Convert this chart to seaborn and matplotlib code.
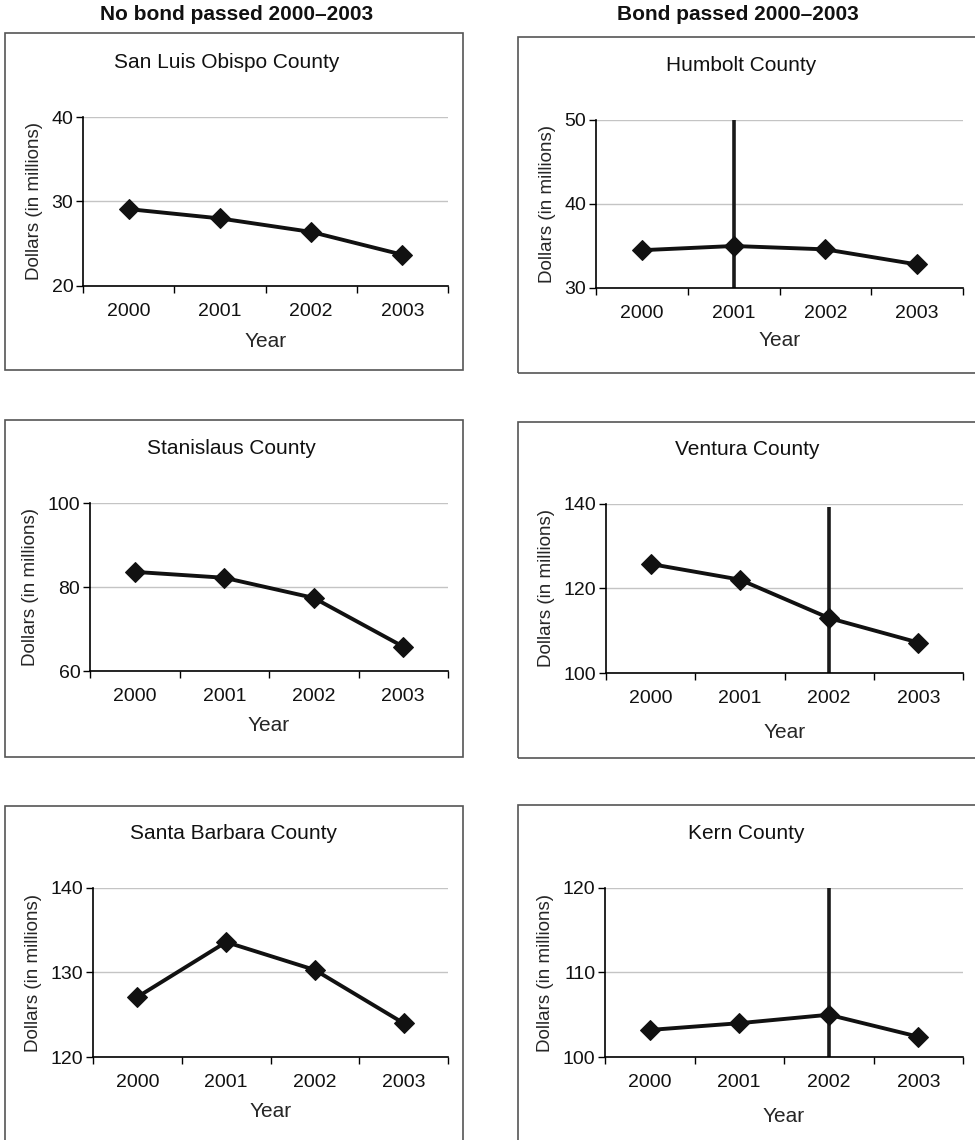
import matplotlib
matplotlib.use("Agg")
import matplotlib.pyplot as plt
from matplotlib.patches import Rectangle
import numpy as np
import pandas as pd
import seaborn as sns

# ---- data -------------------------------------------------------------
years = [2000, 2001, 2002, 2003]

headers = ["No bond passed 2000\u20132003", "Bond passed 2000\u20132003"]

counties = ["San Luis Obispo County", "Humbolt County",
            "Stanislaus County", "Ventura County",
            "Santa Barbara County", "Kern County"]

san_luis_obispo = [29.1, 28.0, 26.4, 23.7]
humbolt = [34.5, 35.0, 34.6, 32.8]
stanislaus = [83.6, 82.2, 77.4, 65.8]
ventura = [125.8, 122.1, 113.0, 107.2]
santa_barbara = [127.1, 133.6, 130.3, 124.0]
kern = [103.2, 104.0, 105.0, 102.4]

series = [san_luis_obispo, humbolt, stanislaus, ventura, santa_barbara, kern]

y_ticks = [[20, 30, 40], [30, 40, 50], [60, 80, 100],
           [100, 120, 140], [120, 130, 140], [100, 110, 120]]

# year in which a bond passed, and how high its marker line reaches
bond_year = {"Humbolt County": 2001, "Ventura County": 2002, "Kern County": 2002}
bond_top = {"Humbolt County": 50, "Ventura County": 139.4, "Kern County": 120}

# ---- layout (pixels: left, top, right, bottom) ------------------------
W, H = 975, 1140
axes_px = [(83, 117, 448, 286), (596, 120, 963, 288),
           (90, 503, 448, 671), (606, 504, 963, 673),
           (93, 888, 448, 1057), (605, 888, 963, 1057)]
frame_px = [(5, 33, 463, 370), (518, 37, 990, 373),
            (5, 420, 463, 757), (518, 422, 990, 758),
            (5, 806, 463, 1160), (518, 805, 990, 1160)]
header_px = [(237, 14), (738, 14)]
xlabel_pad = [8.5, 6.5, 8, 11.5, 7.5, 11]


def to_fig(l, t, r, b):
    return [l / W, 1 - b / H, (r - l) / W, (b - t) / H]


sns.set_theme(style="white")
plt.rcParams["font.family"] = ["Liberation Sans", "DejaVu Sans"]
plt.rcParams["text.color"] = "#111111"

fig = plt.figure(figsize=(W / 100, H / 100), dpi=100)

for (x, y), text in zip(header_px, headers):
    fig.text(x / W, 1 - y / H, text, ha="center", va="center",
             fontsize=15, fontweight="bold")

for i, (name, vals, ticks) in enumerate(zip(counties, series, y_ticks)):
    # chart frame
    fl, ft, fr, fb = frame_px[i]
    fig.patches.append(Rectangle((fl / W, 1 - fb / H), (fr - fl) / W, (fb - ft) / H,
                                 transform=fig.transFigure, fill=False,
                                 edgecolor="#555555", lw=1.2))

    ax = fig.add_axes(to_fig(*axes_px[i]))
    df = pd.DataFrame({"pos": np.arange(len(years)), "value": vals})
    sns.lineplot(data=df, x="pos", y="value", ax=ax, color="#111111", lw=2.8,
                 marker="D", markersize=10.5, markeredgecolor="#111111", zorder=3)

    if name in bond_year:
        bx = years.index(bond_year[name])
        ax.vlines(bx, ticks[0], bond_top[name], color="#1a1a1a", lw=2.6, zorder=2)

    ax.set_xlim(-0.5, len(years) - 0.5)
    ax.set_ylim(ticks[0], ticks[-1])
    ax.set_xticks(np.arange(len(years)))
    ax.set_xticklabels([str(y) for y in years])
    ax.set_xticks(np.arange(-0.5, len(years), 1), minor=True)
    ax.set_yticks(ticks)

    ax.tick_params(axis="x", which="major", length=0, pad=12.5, labelsize=14,
                   labelcolor="#111111")
    ax.tick_params(axis="x", which="minor", length=5, width=1, direction="out",
                   color="black", bottom=True)
    ax.tick_params(axis="y", length=5, width=1, direction="out", color="black",
                   pad=2, labelsize=14, labelcolor="#111111", left=True)

    ax.yaxis.grid(True, color="#c4c4c4", lw=1)
    ax.xaxis.grid(False)
    ax.set_axisbelow(True)
    for s in ("top", "right"):
        ax.spines[s].set_visible(False)
    for s in ("left", "bottom"):
        ax.spines[s].set_color("black")
        ax.spines[s].set_linewidth(1.2)

    ax.set_xlabel("Year", fontsize=15, labelpad=xlabel_pad[i])
    ax.set_ylabel("Dollars (in millions)", fontsize=13.5, labelpad=6)

    ax.annotate(name, xy=(0.395, 1), xycoords="axes fraction",
                xytext=(0, 39), textcoords="offset points",
                ha="center", va="center", fontsize=15)

fig.savefig("out.png", dpi=100, facecolor="white")
